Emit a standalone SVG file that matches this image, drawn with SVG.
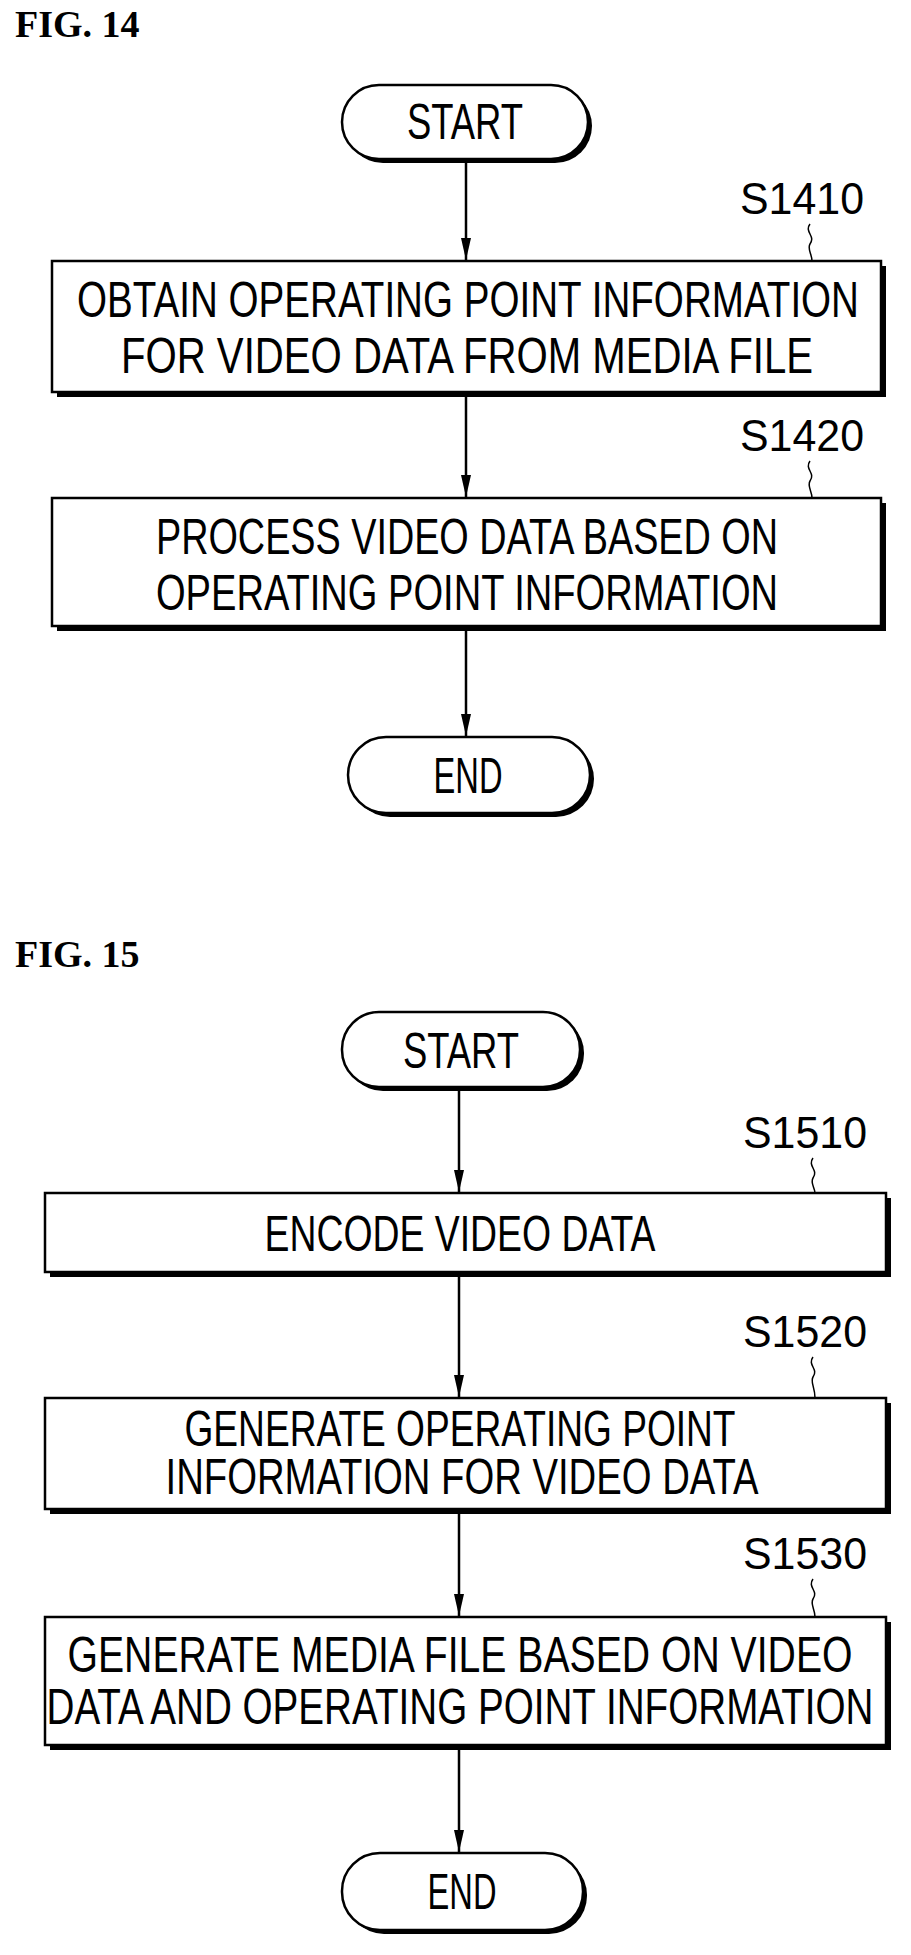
<svg xmlns="http://www.w3.org/2000/svg" width="911" height="1955" viewBox="0 0 911 1955">
<style>
.t{font-family:"Liberation Sans",Arial,sans-serif;font-size:50px;fill:#000;text-anchor:middle}
.s{font-family:"Liberation Sans",Arial,sans-serif;font-size:44px;fill:#000;text-anchor:middle}
.f{font-family:"Liberation Serif","Times New Roman",serif;font-size:38px;font-weight:bold;fill:#000}
.box{fill:#fff;stroke:#000;stroke-width:2.5}
.sh{fill:#000}
.ln{stroke:#000;stroke-width:2.5;fill:none}
.sq{stroke:#000;stroke-width:1.5;fill:none}
</style>
<defs>
<marker id="ah" markerWidth="24" markerHeight="12" refX="22" refY="6" orient="auto" markerUnits="userSpaceOnUse">
<path d="M0,1 L22,6 L0,11 Z" fill="#000"/>
</marker>
</defs>
<rect width="911" height="1955" fill="#fff"/>
<text class="f" x="15" y="37">FIG. 14</text>
<text class="f" x="15" y="967">FIG. 15</text>

<g id="connectors">
<line class="ln" x1="466" y1="159" x2="466" y2="260" marker-end="url(#ah)"/>
<line class="ln" x1="466" y1="392" x2="466" y2="497" marker-end="url(#ah)"/>
<line class="ln" x1="466" y1="628" x2="466" y2="736" marker-end="url(#ah)"/>
<line class="ln" x1="459" y1="1087" x2="459" y2="1192" marker-end="url(#ah)"/>
<line class="ln" x1="459" y1="1272" x2="459" y2="1397" marker-end="url(#ah)"/>
<line class="ln" x1="459" y1="1509" x2="459" y2="1616" marker-end="url(#ah)"/>
<line class="ln" x1="459" y1="1745" x2="459" y2="1852" marker-end="url(#ah)"/>
</g>

<g id="start14">
<rect class="sh" x="346" y="89" width="246" height="74" rx="37"/>
<rect class="box" x="342" y="85" width="246" height="74" rx="37"/>
<text class="t" x="465" y="139" textLength="116" lengthAdjust="spacingAndGlyphs">START</text>
</g>
<g id="s1410">
<text class="s" x="802" y="214" textLength="124" lengthAdjust="spacingAndGlyphs">S1410</text>
<path class="sq" d="M810,224 c-6,8 6,12 0,20 c-3,5 2,10 2,17"/>
<rect class="sh" x="57" y="266" width="829" height="131"/>
<rect class="box" x="52" y="261" width="829" height="131"/>
<text class="t" x="468" y="317" textLength="782" lengthAdjust="spacingAndGlyphs">OBTAIN OPERATING POINT INFORMATION</text>
<text class="t" x="467" y="373" textLength="692" lengthAdjust="spacingAndGlyphs">FOR VIDEO DATA FROM MEDIA FILE</text>
</g>
<g id="s1420">
<text class="s" x="802" y="451" textLength="124" lengthAdjust="spacingAndGlyphs">S1420</text>
<path class="sq" d="M810,461 c-6,8 6,12 0,20 c-3,5 2,10 2,17"/>
<rect class="sh" x="57" y="503" width="829" height="128"/>
<rect class="box" x="52" y="498" width="829" height="128"/>
<text class="t" x="467" y="554" textLength="622" lengthAdjust="spacingAndGlyphs">PROCESS VIDEO DATA BASED ON</text>
<text class="t" x="467" y="610" textLength="622" lengthAdjust="spacingAndGlyphs">OPERATING POINT INFORMATION</text>
</g>
<g id="end14">
<rect class="sh" x="352" y="741" width="242" height="76" rx="38"/>
<rect class="box" x="348" y="737" width="242" height="76" rx="38"/>
<text class="t" x="468" y="793" textLength="69" lengthAdjust="spacingAndGlyphs">END</text>
</g>

<g id="start15">
<rect class="sh" x="346" y="1016" width="238" height="75" rx="37"/>
<rect class="box" x="342" y="1012" width="238" height="75" rx="37"/>
<text class="t" x="461" y="1068" textLength="116" lengthAdjust="spacingAndGlyphs">START</text>
</g>
<g id="s1510">
<text class="s" x="805" y="1148" textLength="124" lengthAdjust="spacingAndGlyphs">S1510</text>
<path class="sq" d="M813,1158 c-6,8 6,12 0,20 c-3,5 2,10 2,15"/>
<rect class="sh" x="50" y="1198" width="841" height="79"/>
<rect class="box" x="45" y="1193" width="841" height="79"/>
<text class="t" x="460" y="1251" textLength="391" lengthAdjust="spacingAndGlyphs">ENCODE VIDEO DATA</text>
</g>
<g id="s1520">
<text class="s" x="805" y="1347" textLength="124" lengthAdjust="spacingAndGlyphs">S1520</text>
<path class="sq" d="M813,1357 c-6,8 6,12 0,20 c-3,5 2,10 2,21"/>
<rect class="sh" x="50" y="1403" width="841" height="111"/>
<rect class="box" x="45" y="1398" width="841" height="111"/>
<text class="t" x="460" y="1446" textLength="551" lengthAdjust="spacingAndGlyphs">GENERATE OPERATING POINT</text>
<text class="t" x="462" y="1494" textLength="593" lengthAdjust="spacingAndGlyphs">INFORMATION FOR VIDEO DATA</text>
</g>
<g id="s1530">
<text class="s" x="805" y="1569" textLength="124" lengthAdjust="spacingAndGlyphs">S1530</text>
<path class="sq" d="M813,1579 c-6,8 6,12 0,20 c-3,5 2,10 2,18"/>
<rect class="sh" x="50" y="1622" width="841" height="128"/>
<rect class="box" x="45" y="1617" width="841" height="128"/>
<text class="t" x="460" y="1672" textLength="785" lengthAdjust="spacingAndGlyphs">GENERATE MEDIA FILE BASED ON VIDEO</text>
<text class="t" x="460" y="1724" textLength="827" lengthAdjust="spacingAndGlyphs">DATA AND OPERATING POINT INFORMATION</text>
</g>
<g id="end15">
<rect class="sh" x="346" y="1857" width="241" height="77" rx="38"/>
<rect class="box" x="342" y="1853" width="241" height="77" rx="38"/>
<text class="t" x="462" y="1909" textLength="69" lengthAdjust="spacingAndGlyphs">END</text>
</g>
</svg>
